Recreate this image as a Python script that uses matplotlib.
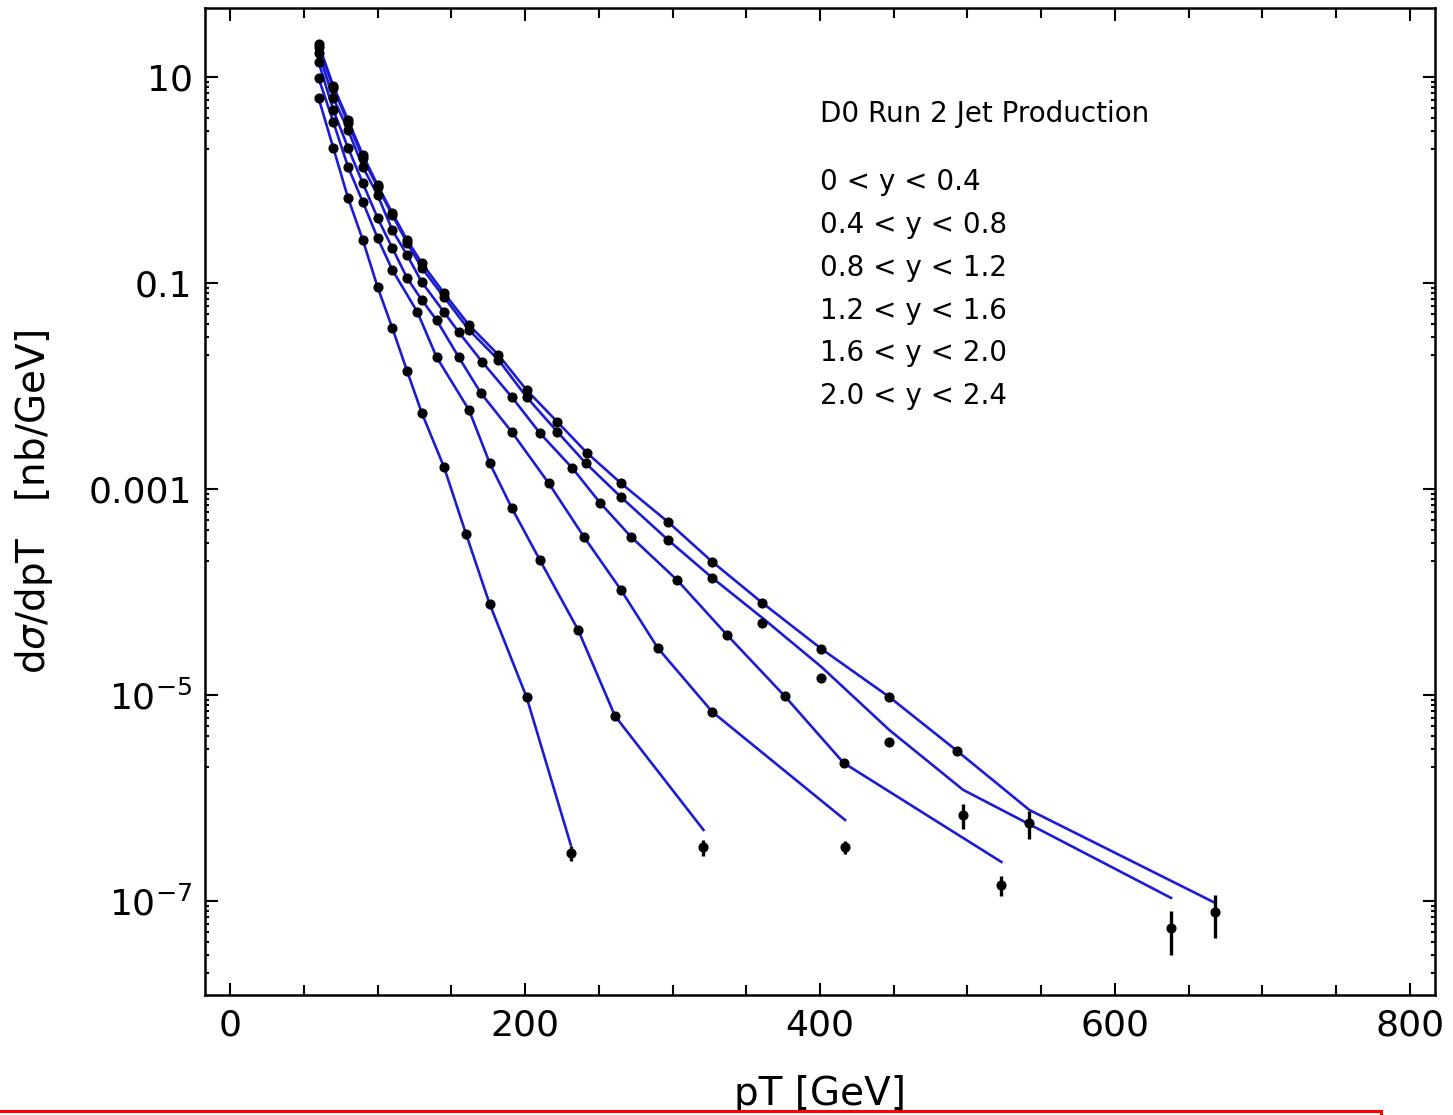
import numpy as np
import matplotlib.pyplot as plt
from matplotlib.patches import Rectangle
from matplotlib.ticker import FixedLocator, MultipleLocator

# D0 Run 2 inclusive jets, dsigma/dpT [nb/GeV] vs pT [GeV], one set per rapidity bin
pt1 = [60, 70, 80, 90, 100, 110, 120, 130, 145, 162, 182, 201, 222, 242, 265, 297, 327, 361, 401, 447, 493, 542, 668]
data1 = [20.9, 8.18, 3.82, 1.75, 0.894, 0.478, 0.262, 0.156, 0.0800, 0.0391, 0.0200, 0.00915, 0.00447,
         0.00224, 0.00114, 4.78e-4, 1.96e-4, 7.82e-5, 2.80e-5, 9.56e-6, 2.86e-6, 5.72e-7, 7.82e-8]
theory1 = [20.9, 8.18, 3.82, 1.75, 0.894, 0.478, 0.262, 0.156, 0.0800, 0.0391, 0.0200, 0.00915, 0.00447,
           0.00224, 0.00114, 4.78e-4, 1.96e-4, 7.82e-5, 2.80e-5, 9.56e-6, 2.86e-6, 7.64e-7, 9.56e-8]
err1 = [0] * 20 + [1.5e-7, 1.7e-7, 3.5e-8]

pt2 = [60, 70, 80, 90, 100, 110, 120, 130, 145, 162, 182, 201, 222, 241, 265, 297, 327, 361, 401, 447, 497, 638]
data2 = [19.6, 7.82, 3.58, 1.64, 0.855, 0.457, 0.245, 0.140, 0.0731, 0.0350, 0.0179, 0.00782, 0.00358,
         0.00179, 8.36e-4, 3.20e-4, 1.37e-4, 5.00e-5, 1.46e-5, 3.50e-6, 6.84e-7, 5.47e-8]
theory2 = [19.6, 7.82, 3.58, 1.64, 0.855, 0.457, 0.245, 0.140, 0.0731, 0.0350, 0.0179, 0.00782, 0.00358,
           0.00179, 8.36e-4, 3.20e-4, 1.37e-4, 5.59e-5, 1.87e-5, 4.57e-6, 1.20e-6, 1.07e-7]
err2 = [0] * 19 + [1.0e-7, 1.8e-7, 2.5e-8]

pt3 = [60, 70, 80, 90, 100, 110, 120, 130, 145, 155, 171, 191, 210, 232, 251, 272, 303, 337, 376, 416, 523]
data3 = [17.1, 6.25, 3.06, 1.34, 0.715, 0.327, 0.187, 0.102, 0.0523, 0.0334, 0.0171, 0.00782, 0.00350,
         0.00160, 7.31e-4, 3.42e-4, 1.31e-4, 3.82e-5, 9.78e-6, 2.19e-6, 1.43e-7]
theory3 = [17.1, 6.25, 3.06, 1.34, 0.715, 0.327, 0.187, 0.102, 0.0523, 0.0334, 0.0171, 0.00782, 0.00350,
           0.00160, 7.31e-4, 3.42e-4, 1.31e-4, 3.82e-5, 9.78e-6, 2.19e-6, 2.39e-7]
err3 = [0] * 19 + [1.0e-7, 3.1e-8]

pt4 = [60, 70, 80, 90, 100, 110, 120, 130, 140, 155, 170, 191, 216, 240, 265, 290, 327, 417]
data4 = [14.0, 4.78, 2.05, 0.935, 0.428, 0.219, 0.112, 0.0684, 0.0437, 0.0191, 0.00855, 0.00358,
         0.00114, 3.42e-4, 1.05e-4, 2.86e-5, 6.84e-6, 3.34e-7]
theory4 = [14.0, 4.78, 2.05, 0.935, 0.428, 0.219, 0.112, 0.0684, 0.0437, 0.0191, 0.00855, 0.00358,
           0.00114, 3.42e-4, 1.05e-4, 2.86e-5, 6.84e-6, 6.11e-7]
err4 = [0] * 17 + [5e-8]

pt5 = [60, 70, 80, 90, 100, 110, 127, 140, 162, 176, 191, 210, 236, 261, 321]
data5 = [9.78, 3.66, 1.34, 0.612, 0.274, 0.134, 0.0523, 0.0191, 0.00585, 0.00179, 6.54e-4, 2.05e-4,
         4.28e-5, 6.25e-6, 3.34e-7]
theory5 = [9.78, 3.66, 1.34, 0.612, 0.274, 0.134, 0.0523, 0.0191, 0.00585, 0.00179, 6.54e-4, 2.05e-4,
           4.28e-5, 6.25e-6, 4.89e-7]
err5 = [0] * 14 + [6e-8]

pt6 = [60, 70, 80, 90, 100, 110, 120, 130, 145, 160, 176, 201, 231]
data6 = [6.25, 2.05, 0.669, 0.262, 0.0915, 0.0366, 0.0140, 0.00547, 0.00164, 3.66e-4, 7.65e-5, 9.56e-6, 2.92e-7]
theory6 = [6.25, 2.05, 0.669, 0.262, 0.0915, 0.0366, 0.0140, 0.00547, 0.00164, 3.66e-4, 7.65e-5, 9.56e-6, 3.50e-7]
err6 = [0] * 12 + [5e-8]

rap_labels = ["0 < y < 0.4", "0.4 < y < 0.8", "0.8 < y < 1.2",
              "1.2 < y < 1.6", "1.6 < y < 2.0", "2.0 < y < 2.4"]

y_major = [10, 0.1, 1e-3, 1e-5, 1e-7]
y_major_labels = ["10", "0.1", "0.001", "$10^{-5}$", "$10^{-7}$"]

fig = plt.figure(figsize=(14.53, 11.15), dpi=100)
ax = fig.add_axes([0.1411, 0.1076, 0.8465, 0.8852])

series = [(pt1, data1, theory1, err1), (pt2, data2, theory2, err2), (pt3, data3, theory3, err3),
          (pt4, data4, theory4, err4), (pt5, data5, theory5, err5), (pt6, data6, theory6, err6)]

for pt, dat, th, err in series:
    ax.plot(pt, th, color='#1c1cd0', lw=1.9, zorder=2)
for pt, dat, th, err in series:
    ax.errorbar(pt, dat, yerr=err, fmt='o', color='k', ms=6.3, elinewidth=2.4,
                capsize=0, zorder=3)

ax.set_yscale('log')
ax.set_xlim(-17, 817)
ax.set_ylim(1.22e-8, 46.8)

ax.set_xticks([0, 200, 400, 600, 800])
ax.xaxis.set_minor_locator(MultipleLocator(50))
ax.yaxis.set_major_locator(FixedLocator(y_major))
ax.set_yticklabels(y_major_labels)
minors = [m * 10.0 ** e for e in [0, -2, -4, -6, -8] for m in range(2, 10)]
ax.yaxis.set_minor_locator(FixedLocator(minors))

ax.tick_params(which='both', direction='in', top=True, right=True, width=1.5)
ax.tick_params(which='major', length=9, labelsize=26)
ax.tick_params(axis='x', which='major', pad=10)
ax.tick_params(axis='y', which='major', pad=9)
ax.tick_params(axis='x', which='minor', length=7)
ax.tick_params(axis='y', which='minor', length=3)
for s in ax.spines.values():
    s.set_linewidth(1.8)

ax.set_xlabel("pT [GeV]", fontsize=28)
ax.xaxis.set_label_coords(0.5, -0.081)
ax.set_ylabel("d$\\sigma$/dpT   [nb/GeV]", fontsize=28)
ax.yaxis.set_label_coords(-0.122, 0.5)

ax.text(0.5, 0.893, "D0 Run 2 Jet Production", transform=ax.transAxes,
        fontsize=20, va='center', ha='left')
for i, lab in enumerate(rap_labels):
    ax.text(0.5, 0.8237 - i * 0.0434, lab, transform=ax.transAxes,
            fontsize=20, va='center', ha='left')

fig.add_artist(Rectangle((-0.01, -0.05), 0.9605, 0.0536, transform=fig.transFigure,
                         fill=False, edgecolor='red', lw=2.2, clip_on=False, zorder=10))

fig.savefig('out.png', dpi=100)
